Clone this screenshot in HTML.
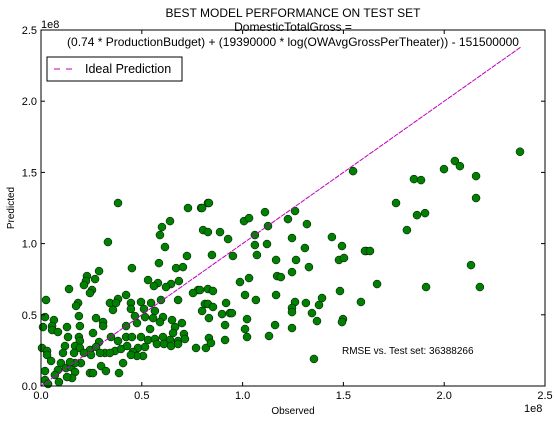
<!DOCTYPE html>
<html><head><meta charset="utf-8">
<style>
body{margin:0;background:#fff;}
svg{display:block;font-family:"Liberation Sans",sans-serif;}
</style></head>
<body>
<svg id="chart" width="557" height="423" viewBox="0 0 557 423">
<rect width="557" height="423" fill="#fff"/>
<g id="plot"></g>
<g font-size="12" text-anchor="middle" fill="#000">
<text x="293" y="17">BEST MODEL PERFORMANCE ON TEST SET</text>
<text x="293" y="31">DomesticTotalGross =</text>
<text x="293" y="46">(0.74 * ProductionBudget) + (19390000 * log(OWAvgGrossPerTheater)) - 151500000</text>
</g>
</svg>
<script>
const observed = [38.2,72.9,79.4,82.8,33.2,59.0,60.0,64.0,80.4,61.5,72.4,58.5,45.1,67.0,70.4,28.8,22.8,26.8,22.3,21.3,53.1,58.0,68.4,64.5,62.0,56.0,25.3,24.3,13.9,77.9,75.4,2.5,42.2,38.2,34.2,37.2,35.7,18.4,17.4,44.6,49.6,54.6,59.5,68.0,44.6,51.1,56.5,46.6,51.6,55.6,60.5,18.8,6.4,2.0,1.0,5.5,5.5,8.4,12.9,19.3,27.3,30.8,30.8,42.2,47.6,54.1,59.0,65.0,66.5,69.9,65.5,70.9,79.9,81.3,13.4,18.8,19.3,25.8,28.8,34.7,38.2,42.2,45.1,49.6,53.1,56.5,60.5,64.0,68.0,71.4,76.9,81.8,0.5,3.0,11.9,16.9,19.3,24.3,27.3,31.7,36.7,39.7,42.7,48.1,51.6,57.5,61.0,64.5,68.0,45.6,50.6,47.6,44.6,34.2,29.3,24.8,21.3,16.4,10.9,3.0,5.0,9.9,12.4,14.9,16.9,15.4,12.9,8.4,6.9,2.0,2.0,3.5,8.9,24.3,25.8,29.8,32.2,38.7,40.7,19.8,16.9,14.4,
83.3,79.9,82.8,88.8,92.8,84.8,95.2,100.7,103.2,111.1,112.6,106.1,106.1,107.1,112.1,122.5,126.0,131.9,124.5,130.9,116.6,126.5,132.9,124.5,117.1,119.0,98.7,103.2,144.3,149.3,147.8,150.3,161.2,101.2,106.6,116.6,126.0,124.5,124.5,131.4,137.9,139.4,134.4,136.9,148.3,158.7,149.8,149.3,78.9,82.8,85.3,82.8,85.3,91.8,83.3,89.8,93.7,94.7,91.3,102.2,101.2,116.1,124.5,102.2,113.1,83.3,84.3,91.3,135.4,
205.3,207.8,199.9,237.6,215.8,185.0,188.5,215.8,176.1,186.5,190.5,181.5,160.7,163.2,213.3,166.7,191.0,217.7,154.8];
const predicted = [128.5,125.0,125.0,128.5,101.1,106.0,111.6,115.8,109.5,97.6,91.3,86.3,82.8,82.8,83.5,80.7,77.2,75.1,73.7,70.9,74.4,72.3,73.7,71.6,69.5,70.2,67.4,65.3,68.1,67.4,65.3,60.4,63.9,61.1,58.3,58.3,53.4,58.3,56.2,58.3,59.0,58.3,60.4,60.4,54.1,54.1,52.7,49.1,48.4,47.7,48.4,49.1,46.3,48.4,41.4,42.1,39.3,37.9,41.4,42.1,47.7,44.9,42.1,42.1,44.2,40.0,44.9,46.3,41.4,44.2,37.2,36.5,52.7,57.6,34.4,34.4,31.6,37.2,30.9,34.4,31.6,34.4,34.4,34.4,32.3,33.0,34.4,32.3,31.6,33.0,26.7,26.7,26.7,24.6,28.1,28.1,26.7,25.3,27.4,23.2,24.6,26.0,28.1,26.7,27.4,29.5,29.5,28.1,29.5,23.9,21.1,21.1,21.8,23.2,23.2,21.8,23.2,23.2,23.2,21.8,17.6,16.1,12.6,13.3,9.8,5.6,6.3,11.2,7.7,10.5,4.2,1.4,2.8,9.1,9.1,14.0,10.5,9.1,16.1,16.1,16.1,16.8,
128.5,125.0,108.1,108.1,103.2,92.0,91.3,115.8,117.9,122.1,112.3,106.0,99.0,92.0,99.7,117.2,122.9,113.7,103.9,96.9,88.5,88.5,83.5,80.0,77.2,76.5,73.0,75.8,104.6,98.3,88.5,89.9,94.8,63.9,60.4,63.9,59.0,54.8,51.9,58.3,56.9,61.8,51.2,45.6,66.7,59.0,47.0,44.9,67.4,68.1,66.7,57.6,55.5,58.3,47.7,50.5,51.2,51.2,42.8,47.0,40.0,42.8,40.7,34.4,35.1,33.7,30.2,32.3,19.0,
158.0,154.4,152.3,164.5,147.4,145.3,144.6,132.0,128.5,120.0,121.4,109.5,94.8,94.8,84.9,71.6,69.5,69.5,150.9];
const xTicks = ["0.0","0.5","1.0","1.5","2.0","2.5"];
const yTicks = ["0.0","0.5","1.0","1.5","2.0","2.5"];
const idealMax = 238;
const rmseText = "RMSE vs. Test set: 36388266";

const L=41,R=545,T=30,B=386,XMAX=250,YMAX=250;
const sx=v=>L+(v/XMAX)*(R-L);
const sy=v=>B-(v/YMAX)*(B-T);
const NS="http://www.w3.org/2000/svg";
const plot=document.getElementById('plot');
function mk(tag,attrs,parent){const e=document.createElementNS(NS,tag);for(const k in attrs)e.setAttribute(k,attrs[k]);(parent||plot).appendChild(e);return e;}

const pts=mk('g',{});


for(let i=0;i<observed.length;i++){
  const c=mk('circle',{cx:sx(observed[i]),cy:sy(predicted[i]),r:4,fill:'#008000',stroke:'#000','stroke-width':0.5},pts);
  
  
}
const line=mk('line',{x1:sx(0),y1:sy(0),x2:sx(idealMax),y2:sy(idealMax),stroke:'#bf00bf','stroke-width':1,'stroke-dasharray':'5,1'});



const frame=mk('rect',{x:L,y:T,width:R-L,height:B-T,fill:'none',stroke:'#000','stroke-width':1});



xTicks.forEach((t,i)=>{
  const x=L+i*(R-L)/(xTicks.length-1);
  mk('line',{x1:x,y1:B,x2:x,y2:B-4,stroke:'#000'});
  mk('line',{x1:x,y1:T,x2:x,y2:T+4,stroke:'#000'});
  const tx=mk('text',{x:x,y:B+13,'font-size':11,'text-anchor':'middle'});
  tx.textContent=t;
  
  
});
yTicks.forEach((t,i)=>{
  const y=B-i*(B-T)/(yTicks.length-1);
  mk('line',{x1:L,y1:y,x2:L+4,y2:y,stroke:'#000'});
  mk('line',{x1:R,y1:y,x2:R-4,y2:y,stroke:'#000'});
  const tx=mk('text',{x:L-4,y:y+4,'font-size':11,'text-anchor':'end'});
  tx.textContent=t;
  
  
});
const xo=mk('text',{x:524,y:412,'font-size':11});xo.textContent='1e8';


const yo=mk('text',{x:41,y:28,'font-size':11});yo.textContent='1e8';



const xl=mk('text',{x:293,y:414,'font-size':10,'text-anchor':'middle'});xl.textContent='Observed';


const yl=mk('text',{x:14,y:208,'font-size':10,'text-anchor':'middle',transform:'rotate(-90 14 208)'});yl.textContent='Predicted';



const rm=mk('text',{x:342,y:354,'font-size':10});rm.textContent=rmseText;



const lg=mk('g',{});


mk('rect',{x:47,y:57,width:135,height:24,fill:'#fff',stroke:'#000'},lg);
mk('line',{x1:54,y1:69,x2:78,y2:69,stroke:'#bf00bf','stroke-dasharray':'6,6'},lg);
const lt=mk('text',{x:85,y:73,'font-size':12.5},lg);lt.textContent='Ideal Prediction';


</script>
</body></html>
